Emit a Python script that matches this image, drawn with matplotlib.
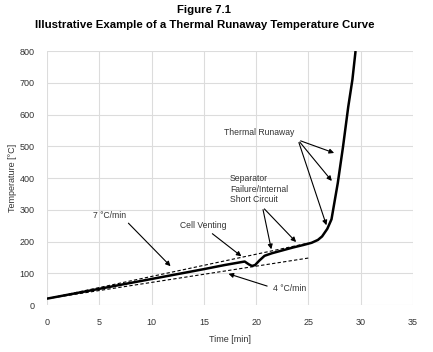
import matplotlib
matplotlib.use("Agg")
import matplotlib.pyplot as plt
import numpy as np

plt.rcParams["font.family"] = ["Liberation Sans", "DejaVu Sans"]

# measured temperature curve
time_min = [0, 5, 10, 15, 17, 18.9, 19.3, 19.6, 19.9, 20.3, 20.8, 21.5, 22.5, 23.5, 24.5,
            25.3, 25.9, 26.3, 26.8, 27.2, 27.8, 28.3, 28.8, 29.2, 29.5]
temp_c = [20, 51, 82, 113, 126, 137, 128, 123, 126, 140, 155, 163, 172, 181, 189,
          196, 205, 216, 240, 270, 384, 498, 624, 710, 800]

# reference heating-rate lines
rate7_t = [0, 25]
rate7_T = [20, 195]
rate4_t = [0, 25]
rate4_T = [20, 148]

TEXT = "#333333"

fig = plt.figure(figsize=(4.33, 3.52), dpi=100)
ax = fig.add_axes([0.1085, 0.1335, 0.8455, 0.7215])

ax.plot(rate7_t, rate7_T, color="black", lw=0.8, ls=(0, (3, 2)))
ax.plot(rate4_t, rate4_T, color="black", lw=0.8, ls=(0, (3, 2)))
ax.plot(time_min, temp_c, color="black", lw=1.8, solid_capstyle="butt")

ax.set_xlim(0, 35)
ax.set_ylim(0, 800)
ax.set_xticks(np.arange(0, 36, 5))
ax.set_yticks(np.arange(0, 801, 100))
ax.grid(True, color="#dcdcdc", lw=0.8)
ax.set_axisbelow(True)
for s in ax.spines.values():
    s.set_visible(False)
ax.tick_params(length=0, labelsize=6.5, labelcolor=TEXT, pad=9)
ax.set_xlabel("Time [min]", fontsize=6.5, color=TEXT, labelpad=6)
ax.set_ylabel("Temperature [°C]", fontsize=6.5, color=TEXT, labelpad=2)

arrow = dict(arrowstyle="-|>", color="black", lw=0.8, mutation_scale=7)
fs = 6.2

# Thermal runaway
ax.text(20.3, 542, "Thermal Runaway", fontsize=fs, color=TEXT, ha="center", va="center")
for tx, ty in [(27.7, 476), (27.4, 384), (26.8, 243)]:
    ax.annotate("", xy=(tx, ty), xytext=(24.0, 520), arrowprops=arrow)

# Separator failure
ax.text(17.5, 365, "Separator\nFailure/Internal\nShort Circuit", fontsize=fs,
        color=TEXT, ha="left", va="center", linespacing=1.25)
for tx, ty in [(21.5, 167), (24.0, 192)]:
    ax.annotate("", xy=(tx, ty), xytext=(20.6, 309), arrowprops=arrow)

# Cell venting
ax.text(14.9, 252, "Cell Venting", fontsize=fs, color=TEXT, ha="center", va="center")
ax.annotate("", xy=(18.8, 148), xytext=(15.6, 230), arrowprops=arrow)

# 7 C/min
ax.text(4.4, 281, "7 °C/min", fontsize=fs, color=TEXT, ha="left", va="center")
ax.annotate("", xy=(12.0, 116), xytext=(7.6, 264), arrowprops=arrow)

# 4 C/min
ax.text(21.6, 53, "4 °C/min", fontsize=fs, color=TEXT, ha="left", va="center")
ax.annotate("", xy=(17.1, 101), xytext=(21.3, 57), arrowprops=arrow)

fig.text(0.472, 0.972, "Figure 7.1", fontsize=8.2, fontweight="bold", ha="center", va="center")
fig.text(0.472, 0.93, "Illustrative Example of a Thermal Runaway Temperature Curve",
         fontsize=8.2, fontweight="bold", ha="center", va="center")

fig.savefig("out.png", dpi=100)
